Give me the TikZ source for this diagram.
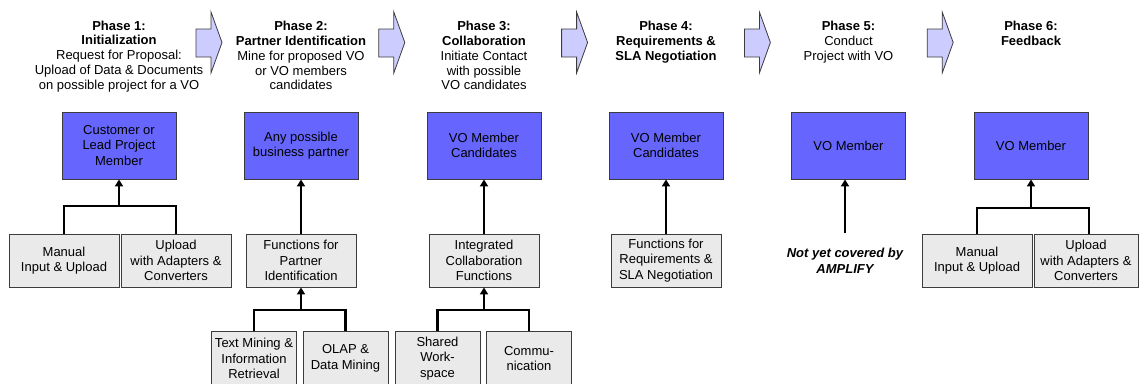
\documentclass[tikz,border=0pt]{standalone}
\usepackage{fontspec}
\setmainfont{Liberation Sans}
\usetikzlibrary{arrows.meta}
\definecolor{bluebox}{RGB}{102,102,255}
\definecolor{graybox}{RGB}{234,234,234}
\definecolor{arrowfill}{RGB}{204,204,255}
\definecolor{edge}{RGB}{60,60,60}
\begin{document}
\begin{tikzpicture}[x=1pt,y=-1pt,
  every node/.style={font=\fontsize{13}{15.5}\selectfont, align=center, inner sep=0pt},
  hdr/.style={anchor=north, font=\fontsize{13}{14.8}\selectfont},
  bluenode/.style={draw=edge, line width=0.9pt, fill=bluebox, minimum width=114pt, minimum height=67pt},
  graynode/.style={draw=edge, line width=0.9pt, fill=graybox, minimum width=110pt, minimum height=53pt},
  subnode/.style={draw=edge, line width=0.9pt, fill=graybox, minimum width=85pt, minimum height=55pt},
  link/.style={line width=2.4pt, black},
  up/.style={link, -{Triangle[width=8pt,length=7pt]}},
  phasearrow/.style={draw=edge, line width=0.8pt, fill=arrowfill, line join=miter}
]
\useasboundingbox (0,0) rectangle (1139,383);
\clip (0,0) rectangle (1139,383);

% phase arrows
\foreach \xl in {196,378.8,561.6,744.4,927.2}{
  \draw[phasearrow] (\xl,29) -- ({\xl+15},29) -- ({\xl+15},12) -- ({\xl+26},42.5)
    -- ({\xl+15},73) -- ({\xl+15},57) -- (\xl,57) -- cycle;
}

% headers
\node[hdr] (h1) at (119,20.5) {\textbf{Phase 1:}\\\textbf{Initialization}\\Request for Proposal:\\Upload of Data \& Documents\\on possible project for a VO};
\node[hdr] (h2) at (301,21) {\textbf{Phase 2:}\\\textbf{Partner Identification}\\Mine for proposed VO\\or VO members\\candidates};
\node[hdr] (h3) at (484,21) {\textbf{Phase 3:}\\\textbf{Collaboration}\\Initiate Contact\\with possible\\VO candidates};
\node[hdr] (h4) at (666,21) {\textbf{Phase 4:}\\\textbf{Requirements \&}\\\textbf{SLA Negotiation}};
\node[hdr] (h5) at (848.5,21) {\textbf{Phase 5:}\\Conduct\\Project with VO};
\node[hdr] (h6) at (1031,21) {\textbf{Phase 6:}\\\textbf{Feedback}};

% blue boxes
\node[bluenode] (b1) at (119,145.5) {Customer or\\Lead Project\\Member};
\node[bluenode] (b2) at (301,145.5) {Any possible\\business partner};
\node[bluenode] (b3) at (484,145.5) {VO Member\\Candidates};
\node[bluenode] (b4) at (666,145.5) {VO Member\\Candidates};
\node[bluenode] (b5) at (848.5,145.5) {VO Member};
\node[bluenode] (b6) at (1031,145.5) {VO Member};

% gray boxes
\node[graynode] (g1a) at (64,260.5) {Manual\\Input \& Upload};
\node[graynode] (g1b) at (176,260.5) {Upload\\with Adapters \&\\Converters};
\node[graynode] (g2) at (301,260.5) {Functions for\\Partner\\Identification};
\node[graynode] (g3) at (484,260.5) {Integrated\\Collaboration\\Functions};
\node[graynode] (g4) at (666,260.5) {Functions for\\Requirements \&\\SLA Negotiation};
\node[graynode] (g6a) at (977,260.5) {Manual\\Input \& Upload};
\node[graynode, minimum width=104pt] (g6b) at (1086,260.5) {Upload\\with Adapters \&\\Converters};

\node[font=\fontsize{13}{15.5}\selectfont\bfseries\itshape] (nyc) at (845,261) {Not yet covered by\\AMPLIFY};

% sub boxes
\node[subnode] (s2a) at (254,358.5) {Text Mining \&\\Information\\Retrieval};
\node[subnode] (s2b) at (345.5,358.5) {OLAP \&\\Data Mining};
\node[subnode] (s3a) at (437.5,358.5) {Shared\\Work-\\space};
\node[subnode] (s3b) at (529,358.5) {Commu-\\nication};

% connectors
\coordinate (j1) at (119,206);
\draw[link] (g1a.north) |- (j1) -| (g1b.north);
\draw[up] (j1) -- (b1.south);

\draw[up] (g2.north) -- (b2.south);
\coordinate (j2) at (301,310);
\draw[link] (s2a.north) |- (j2) -| (s2b.north);
\draw[up] (j2) -- (g2.south);

\draw[up] (g3.north) -- (b3.south);
\coordinate (j3) at (484,310);
\draw[link] (s3a.north) |- (j3) -| (s3b.north);
\draw[up] (j3) -- (g3.south);

\draw[up] (g4.north) -- (b4.south);

\draw[up] ([yshift=15pt]nyc.north) -- (nyc.north |- b5.south);

\coordinate (j6) at (1031,208);
\draw[link] (g6a.north) |- (j6) -| ([xshift=3pt]g6b.north);
\draw[up] (j6) -- (b6.south);
\end{tikzpicture}
\end{document}
